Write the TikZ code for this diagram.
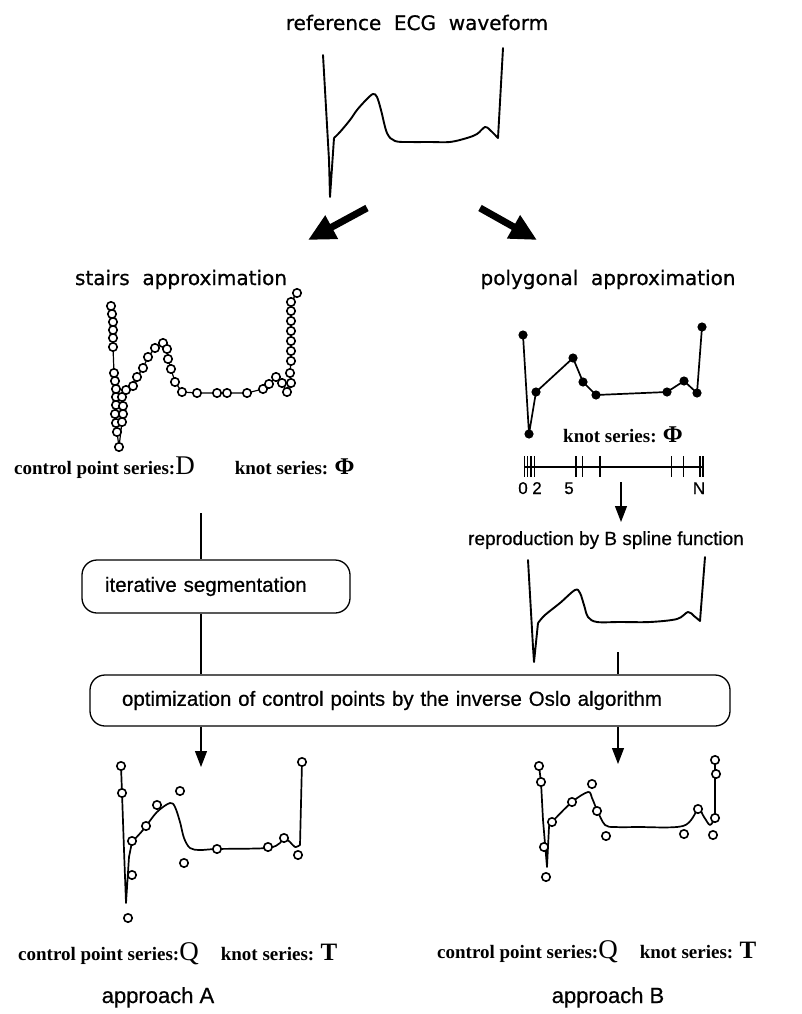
\documentclass[tikz,border=0pt]{standalone}
\usepackage{fontspec}
\setmainfont{Liberation Serif}
\setsansfont[FakeBold=0.6]{Liberation Sans}
\newfontfamily\genevafont[FakeBold=0.8]{DejaVu Sans}
\usetikzlibrary{arrows.meta,calc,positioning}

\begin{document}
\begin{tikzpicture}[>={Triangle[length=16pt,width=12pt]}]
  % Global sizes and text styles
  \def\cr{4.2} % control point radius in px
  \tikzset{
    heading/.style = {font=\genevafont\fontsize{20}{24}\selectfont, inner sep=0pt},
    plain/.style   = {font=\sffamily\fontsize{20.5}{24}\selectfont},
    series/.style  = {font=\bfseries\fontsize{19}{22}\selectfont, inner sep=0pt},
    procbox/.style = {draw, rounded corners=15pt, line width=1.3pt, plain, align=left},
    wave/.style    = {line width=1.9pt, line join=round, line cap=round},
    fuzz/.style    = {line width=1.2pt, line join=round},
    ctrl/.style    = {draw, fill=white, line width=1.6pt},
    knotdot/.style = {fill=black},
    flow/.style    = {line width=1.2pt},
    fat/.style     = {line width=7pt, -{Triangle[length=27pt,width=25pt]}}
  }

  % Pixel units, y pointing down
  \begin{scope}[x=1pt,y=-1pt]
    \useasboundingbox (0,0) rectangle (801,1014);

    % --- Reference ECG waveform ---
    \node[heading, anchor=base] (title) at (417,30) {reference\ \ ECG\ \ waveform};
    \draw[wave] (323,55) -- (329,160) -- (330,197) -- (334,138)
      plot[smooth, tension=0.55] coordinates {(334,138) (340,132) (350,120) (357,110) (366,100)
        (373,94) (377,97) (381,110) (387,133) (395,141) (410,142) (430,142) (450,142)
        (467,138) (477,134) (485,127) (490,130) (498,138)} -- (503,48);

    % fork arrows
    \coordinate (forkL) at (367,208);
    \coordinate (headL) at (308,240);
    \coordinate (forkR) at (480,208);
    \coordinate (headR) at (537,240);
    \draw[fat] (forkL) -- (headL);
    \draw[fat] (forkR) -- (headR);

    % --- Stairs approximation (approach A, left) ---
    \node[heading, anchor=base] (stairsT) at (181,285) {stairs\ \ approximation};
    \draw[fuzz] (111,306) -- (112,314) -- (113,322) -- (113,330) -- (113,338) -- (113,347)
      -- (114,373) -- (115,381) -- (116,389) -- (116,397) -- (116,405) -- (115,414)
      -- (116,423) -- (117,432) -- (119,447) -- (122,422) -- (123,414) -- (123,406)
      -- (122,397) -- (126,390) -- (133,386) -- (137,377) -- (143,368) -- (148,357)
      -- (155,348) -- (163,343) -- (167,349) -- (168,359) -- (171,369) -- (175,382)
      -- (182,392) -- (197,393) -- (217,393) -- (227,393) -- (247,393) -- (263,389)
      -- (269,384) -- (276,377) -- (282,383) -- (287,392) -- (291,383) -- (290,373)
      -- (291,361) -- (291,351) -- (291,341) -- (291,331) -- (291,321) -- (291,311)
      -- (291,302) -- (297,293);
    \foreach \x/\y in {111/306, 112/314, 113/322, 113/330, 113/338, 113/347, 114/373,
        115/381, 116/389, 116/397, 116/405, 115/414, 116/423, 117/432, 119/447, 122/422,
        123/414, 123/406, 122/397, 126/390, 133/386, 137/377, 143/368, 148/357, 155/348,
        163/343, 167/349, 168/359, 171/369, 175/382, 182/392, 197/393, 217/393, 227/393,
        247/393, 263/389, 269/384, 276/377, 282/383, 287/392, 291/383, 290/373, 291/361,
        291/351, 291/341, 291/331, 291/321, 291/311, 291/302, 297/293}
      { \draw[ctrl] (\x,\y) circle[radius=\cr]; }
    \node[series, anchor=base west] (seriesD) at (14,474)
      {control point series:{\mdseries\fontsize{27}{27}\selectfont D}\hspace{40pt}knot series: {\fontsize{24}{24}\selectfont Φ}};

    % --- Polygonal approximation (approach B, right) ---
    \node[heading, anchor=base] (polyT) at (608,285) {polygonal\ \ approximation};
    \draw[wave, line width=1.7pt] (523,335) -- (529,434) -- (536,392) -- (573,358) -- (583,382)
      -- (596,395) -- (667,392) -- (684,381) -- (697,393) -- (702,327);
    \foreach \x/\y in {523/335, 529/434, 536/392, 573/358, 583/382, 596/395, 667/392,
        684/381, 697/393, 702/327}
      { \fill[knotdot] (\x,\y) circle[radius=4.6]; }
    \node[series, anchor=base] (seriesPhi) at (623,442)
      {knot series: {\fontsize{24}{24}\selectfont Φ}};

    % knot axis with ticks
    \draw[line width=1.5pt] (524,467) -- (703,467);
    \foreach \t in {524.3,527.5,531,534.3,576,582.7,600,671.7,683.3,700,703}
      { \draw[line width=1.4pt] (\t,456) -- (\t,477); }
    \node[plain, font=\sffamily\fontsize{17}{20}\selectfont, anchor=base] (k0) at (523,494) {0};
    \node[plain, font=\sffamily\fontsize{17}{20}\selectfont, anchor=base] (k2) at (537,494) {2};
    \node[plain, font=\sffamily\fontsize{17}{20}\selectfont, anchor=base] (k5) at (569,494) {5};
    \node[plain, font=\sffamily\fontsize{17}{20}\selectfont, anchor=base] (kN) at (699,494) {N};
    \coordinate (axisN) at (621,482);
    \coordinate (tipR) at (621,522);
    \draw[flow, ->] (axisN) -- (tipR);

    % B spline reproduction
    \node[plain, font=\sffamily\fontsize{19}{22}\selectfont, anchor=base] (repro) at (606,545)
      {reproduction by B spline function};
    \draw[wave] (528,560) -- (533,647) -- (534,662) -- (538,623)
      plot[smooth, tension=0.55] coordinates {(538,623) (545,615) (560,603) (575,590) (580,593)
        (584,605) (588,617) (597,622) (620,622) (650,622) (677,619) (688,612) (694,616)
        (700,621)} -- (705,557);

    % --- Process boxes ---
    \node[procbox, minimum width=268pt, minimum height=53pt, text width=222pt, inner xsep=23pt]
      (iter) at (216,586.5) {iterative segmentation};
    \node[procbox, minimum width=640pt, minimum height=51pt, text width=576pt, inner xsep=32pt]
      (optim) at (410,700.5) {optimization of control points by the inverse Oslo algorithm};

    % connectors, left column
    \coordinate (colA) at (201,513);
    \coordinate (tipA) at (201,767);
    \draw[flow] (colA) -- (colA |- iter.north);
    \draw[flow] (colA |- iter.south) -- (colA |- optim.north);
    \draw[flow, ->] (tipA |- optim.south) -- (tipA);

    % connectors, right column
    \coordinate (splineB) at (618,652);
    \coordinate (tipB) at (618,764);
    \draw[flow] (splineB) -- (splineB |- optim.north);
    \draw[flow, ->] (tipB |- optim.south) -- (tipB);

    % --- Result of approach A ---
    \draw[fuzz, line width=1.7pt] (121,766) -- (122,793) -- (124,850) -- (126,903) -- (129,857) -- (132,842)
      plot[smooth, tension=0.55] coordinates {(132,842) (143,830) (157,812) (170,803) (175,807)
        (180,822) (184,838) (190,848) (200,850) (217,849) (267,848) (280,843) (284,838)
        (290,842) (295,847) (300,845)} -- (302,762);
    \foreach \x/\y in {121/766, 122/793, 132/841, 132/875, 128/918, 146/826, 157/805,
        180/791, 184/863, 217/849, 268/847, 284/838, 298/855, 302/762}
      { \draw[ctrl] (\x,\y) circle[radius=\cr]; }

    % --- Result of approach B ---
    \draw[fuzz, line width=1.7pt] (539,766) -- (541,782) -- (543,820) -- (547,867) -- (549,827)
      plot[smooth, tension=0.55] coordinates {(549,827) (552,822) (572,802) (588,792) (592,798)
        (597,810) (605,825) (615,827) (637,827) (683,826) (698,810) (704,817) (710,825)
        (715,818)} -- (715,760);
    \foreach \x/\y in {539/766, 541/782, 544/847, 546/877, 552/822, 572/802, 592/784,
        597/811, 606/836, 684/834, 698/809, 713/835, 715/818, 716/774, 715/760}
      { \draw[ctrl] (\x,\y) circle[radius=\cr]; }

    % --- Output series and approach names ---
    \node[series, anchor=base west] (seriesQA) at (18,960)
      {control point series:{\mdseries\fontsize{27}{27}\selectfont Q}\hspace{22pt}knot series: {\fontsize{25}{25}\selectfont T}};
    \node[series, anchor=base west] (seriesQB) at (437,958)
      {control point series:{\mdseries\fontsize{27}{27}\selectfont Q}\hspace{22pt}knot series: {\fontsize{25}{25}\selectfont T}};
    \node[plain, font=\sffamily\fontsize{22}{26}\selectfont, anchor=base] (appA) at (158,1003) {approach A};
    \node[plain, font=\sffamily\fontsize{22}{26}\selectfont, anchor=base] (appB) at (608,1003) {approach B};
  \end{scope}
\end{tikzpicture}
\end{document}
